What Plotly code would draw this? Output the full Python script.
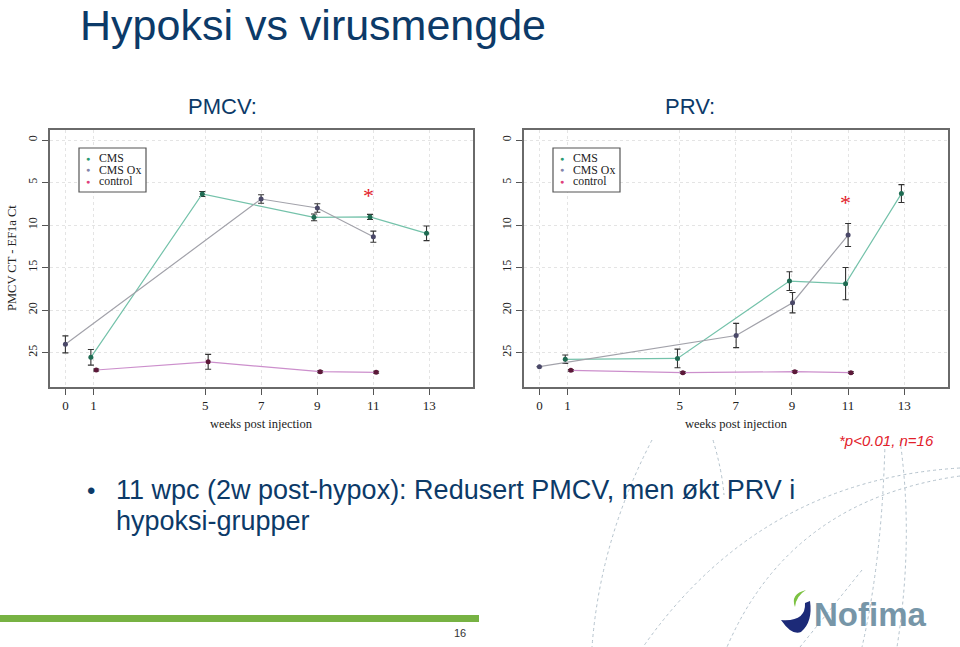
import plotly.graph_objects as go

W, H = 960, 647

# --- data (x = weeks post injection, y = PMCV/PRV Ct - EF1a Ct) ---
weeks_ticks = [0, 1, 5, 7, 9, 11, 13]
ct_ticks = [0, 5, 10, 15, 20, 25]

pmcv_cms_x = [0.91, 4.89, 8.88, 10.88, 12.9]
pmcv_cms_y = [25.57, 6.35, 9.1, 9.05, 10.98]
pmcv_cms_err = [0.92, 0.3, 0.4, 0.3, 0.86]

pmcv_ox_x = [0, 6.99, 9.0, 11.0]
pmcv_ox_y = [24.04, 6.94, 8.0, 11.37]
pmcv_ox_err = [1.0, 0.5, 0.5, 0.65]

pmcv_ctrl_x = [1.1, 5.1, 9.1, 11.1]
pmcv_ctrl_y = [27.06, 26.1, 27.26, 27.33]
pmcv_ctrl_err = [0.12, 0.88, 0.12, 0.12]

prv_cms_x = [0.92, 4.92, 8.91, 10.91, 12.9]
prv_cms_y = [25.8, 25.7, 16.6, 16.9, 6.3]
prv_cms_err = [0.5, 1.1, 1.1, 1.9, 1.05]

prv_ox_x = [0, 7.01, 9.02, 11.0]
prv_ox_y = [26.67, 23.0, 19.14, 11.18]
prv_ox_err = [0.0, 1.43, 1.2, 1.35]

prv_ctrl_x = [1.12, 5.11, 9.1, 11.1]
prv_ctrl_y = [27.1, 27.37, 27.26, 27.37]
prv_ctrl_err = [0.1, 0.1, 0.1, 0.1]

# significance stars (week, Ct)
pmcv_star = (10.82, 6.3)
prv_star = (10.92, 7.1)

legend_names = ["CMS", "CMS Ox", "control"]


def px(x):
    return x / W


def py(y):
    return 1 - y / H


SERIF = "Liberation Serif, Times New Roman, serif"
SANS = "Liberation Sans, Arial, sans-serif"
BLUE = "#0c3a68"

series_style = {
    "CMS": dict(line="#74c2aa", marker="#1f6b52"),
    "CMS Ox": dict(line="#a2a2aa", marker="#4a4868"),
    "control": dict(line="#cc8fcc", marker="#5c1838"),
}
legend_dot = {"CMS": "#2a9a72", "CMS Ox": "#8484aa", "control": "#e0407c"}

fig = go.Figure()


def add_series(name, xs, ys, errs, xa, ya):
    st = series_style[name]
    fig.add_trace(go.Scatter(
        x=xs, y=ys, mode="lines+markers", name=name, showlegend=False,
        xaxis=xa, yaxis=ya,
        line=dict(color=st["line"], width=1.2),
        marker=dict(color=st["marker"], size=5),
        error_y=dict(type="data", array=errs, visible=True,
                     color="#333333", thickness=1.1, width=3),
    ))


add_series("CMS", pmcv_cms_x, pmcv_cms_y, pmcv_cms_err, "x", "y")
add_series("CMS Ox", pmcv_ox_x, pmcv_ox_y, pmcv_ox_err, "x", "y")
add_series("control", pmcv_ctrl_x, pmcv_ctrl_y, pmcv_ctrl_err, "x", "y")
add_series("CMS", prv_cms_x, prv_cms_y, prv_cms_err, "x2", "y2")
add_series("CMS Ox", prv_ox_x, prv_ox_y, prv_ox_err, "x2", "y2")
add_series("control", prv_ctrl_x, prv_ctrl_y, prv_ctrl_err, "x2", "y2")

xaxis_common = dict(
    range=[-0.55, 14.56], tickmode="array", tickvals=weeks_ticks,
    showline=True, mirror=True, linecolor="#6a6a6a", linewidth=1.5,
    ticks="outside", ticklen=6, tickcolor="#555555",
    showgrid=True, gridcolor="#e4e4e4", griddash="dot", zeroline=False,
    tickfont=dict(family=SERIF, size=13, color="#222222"),
)
yaxis_common = dict(
    range=[29.06, -1.18], tickmode="array", tickvals=ct_ticks, tickangle=-90,
    showline=True, mirror=True, linecolor="#6a6a6a", linewidth=1.5,
    ticks="outside", ticklen=6, tickcolor="#555555",
    showgrid=True, gridcolor="#e4e4e4", griddash="dot", zeroline=False,
    tickfont=dict(family=SERIF, size=12, color="#222222"),
)

fig.update_layout(
    width=W, height=H,
    margin=dict(l=0, r=0, t=0, b=0),
    paper_bgcolor="white", plot_bgcolor="white",
    xaxis=dict(domain=[px(50), px(473)], anchor="y", **xaxis_common),
    yaxis=dict(domain=[py(387), py(130)], anchor="x", **yaxis_common),
    xaxis2=dict(domain=[px(524), px(948)], anchor="y2", **xaxis_common),
    yaxis2=dict(domain=[py(387), py(130)], anchor="x2", **yaxis_common),
)

annotations = []
shapes = []


def text(x, y, s, size, color=BLUE, family=SANS, xanchor="left", yanchor="middle", **kw):
    annotations.append(dict(
        x=px(x), y=py(y), xref="paper", yref="paper", text=s, showarrow=False,
        xanchor=xanchor, yanchor=yanchor,
        font=dict(family=family, size=size, color=color), **kw))


# slide title and panel headings
text(78, 25, "Hypoksi vs virusmengde", 43)
text(222, 107, "PMCV:", 22, xanchor="center")
text(690, 107, "PRV:", 22, xanchor="center")

# axis titles
text(261.5, 424, "weeks post injection", 12.5, color="#222222", family=SERIF, xanchor="center")
text(736, 424, "weeks post injection", 12.5, color="#222222", family=SERIF, xanchor="center")
text(12, 258, "PMCV CT - EF1a Ct", 12.5, color="#222222", family=SERIF,
     xanchor="center", textangle=-90)

# legends inside each panel
for x0 in (79, 553):
    shapes.append(dict(type="rect", xref="paper", yref="paper",
                       x0=px(x0), x1=px(x0 + 67), y0=py(192), y1=py(148),
                       line=dict(color="#555555", width=1.2), fillcolor="white"))
    for i, nm in enumerate(legend_names):
        yy = 158.5 + i * 11.3
        text(x0 + 9, yy, "\u25cf", 7, color=legend_dot[nm], xanchor="center")
        text(x0 + 18, yy, nm, 11.8, color="#222222", family=SERIF)

# significance stars in data coordinates
for (sx, sy), xr, yr in ((pmcv_star, "x", "y"), (prv_star, "x2", "y2")):
    annotations.append(dict(x=sx, y=sy, xref=xr, yref=yr, text="*", showarrow=False,
                            xanchor="center", yanchor="middle", yshift=-2,
                            font=dict(family=SERIF, size=22, color="#e2202a")))

text(886, 440, "<i>*p<0.01, n=16</i>", 15, color="#e2202a", xanchor="center")

# bullet text
text(85, 490, "\u2022", 24)
text(114, 490, "11 wpc (2w post-hypox): Redusert PMCV, men økt PRV i", 27)
text(114, 521, "hypoksi-grupper", 27)

# footer bar and page number
shapes.append(dict(type="rect", xref="paper", yref="paper", x0=0, x1=px(479),
                   y0=py(622), y1=py(615), line=dict(width=0), fillcolor="#77b243"))
text(460, 633, "16", 11, color="#333333", xanchor="center")


# decorative dotted arcs of the slide template
def arc(p0, c, p1):
    return "M {},{} Q {},{} {},{}".format(px(p0[0]), py(p0[1]), px(c[0]), py(c[1]),
                                          px(p1[0]), py(p1[1]))


arcs = [
    ((652, 440), (600, 540), (592, 647)),
    ((713, 440), (722, 470), (724, 495)),
    ((960, 468), (760, 480), (643, 647)),
    ((960, 476), (790, 500), (727, 647)),
    ((885, 443), (882, 560), (862, 647)),
    ((900, 440), (914, 540), (897, 647)),
    ((862, 570), (830, 610), (800, 647)),
]
for a in arcs:
    shapes.append(dict(type="path", xref="paper", yref="paper", path=arc(*a),
                       line=dict(color="#b4c2cc", width=1, dash="dot"), layer="below"))

# Nofima logo: navy swoosh and green leaf
navy = "M {},{} Q {},{} {},{} Q {},{} {},{} L {},{} Q {},{} {},{} Z".format(
    px(781), py(620), px(792), py(636), px(801), py(632),
    px(813), py(622), px(810), py(601),
    px(805), py(603), px(806), py(622), px(781), py(620))
leaf = "M {},{} Q {},{} {},{} Q {},{} {},{} Z".format(
    px(795), py(607), px(790), py(594), px(806), py(590),
    px(796), py(596), px(795), py(607))
shapes.append(dict(type="path", xref="paper", yref="paper", path=navy,
                   line=dict(width=0), fillcolor="#1c2a78"))
shapes.append(dict(type="path", xref="paper", yref="paper", path=leaf,
                   line=dict(width=0), fillcolor="#7cc242"))
text(812, 614, "<b>Nofima</b>", 33, color="#7796a8")

fig.update_layout(annotations=annotations, shapes=shapes)

# the page is photographed at exactly the figure size, so drop the default body margin
fig.write_html("out.html", config={"displayModeBar": False},
               post_script="document.body.style.margin='0';")
